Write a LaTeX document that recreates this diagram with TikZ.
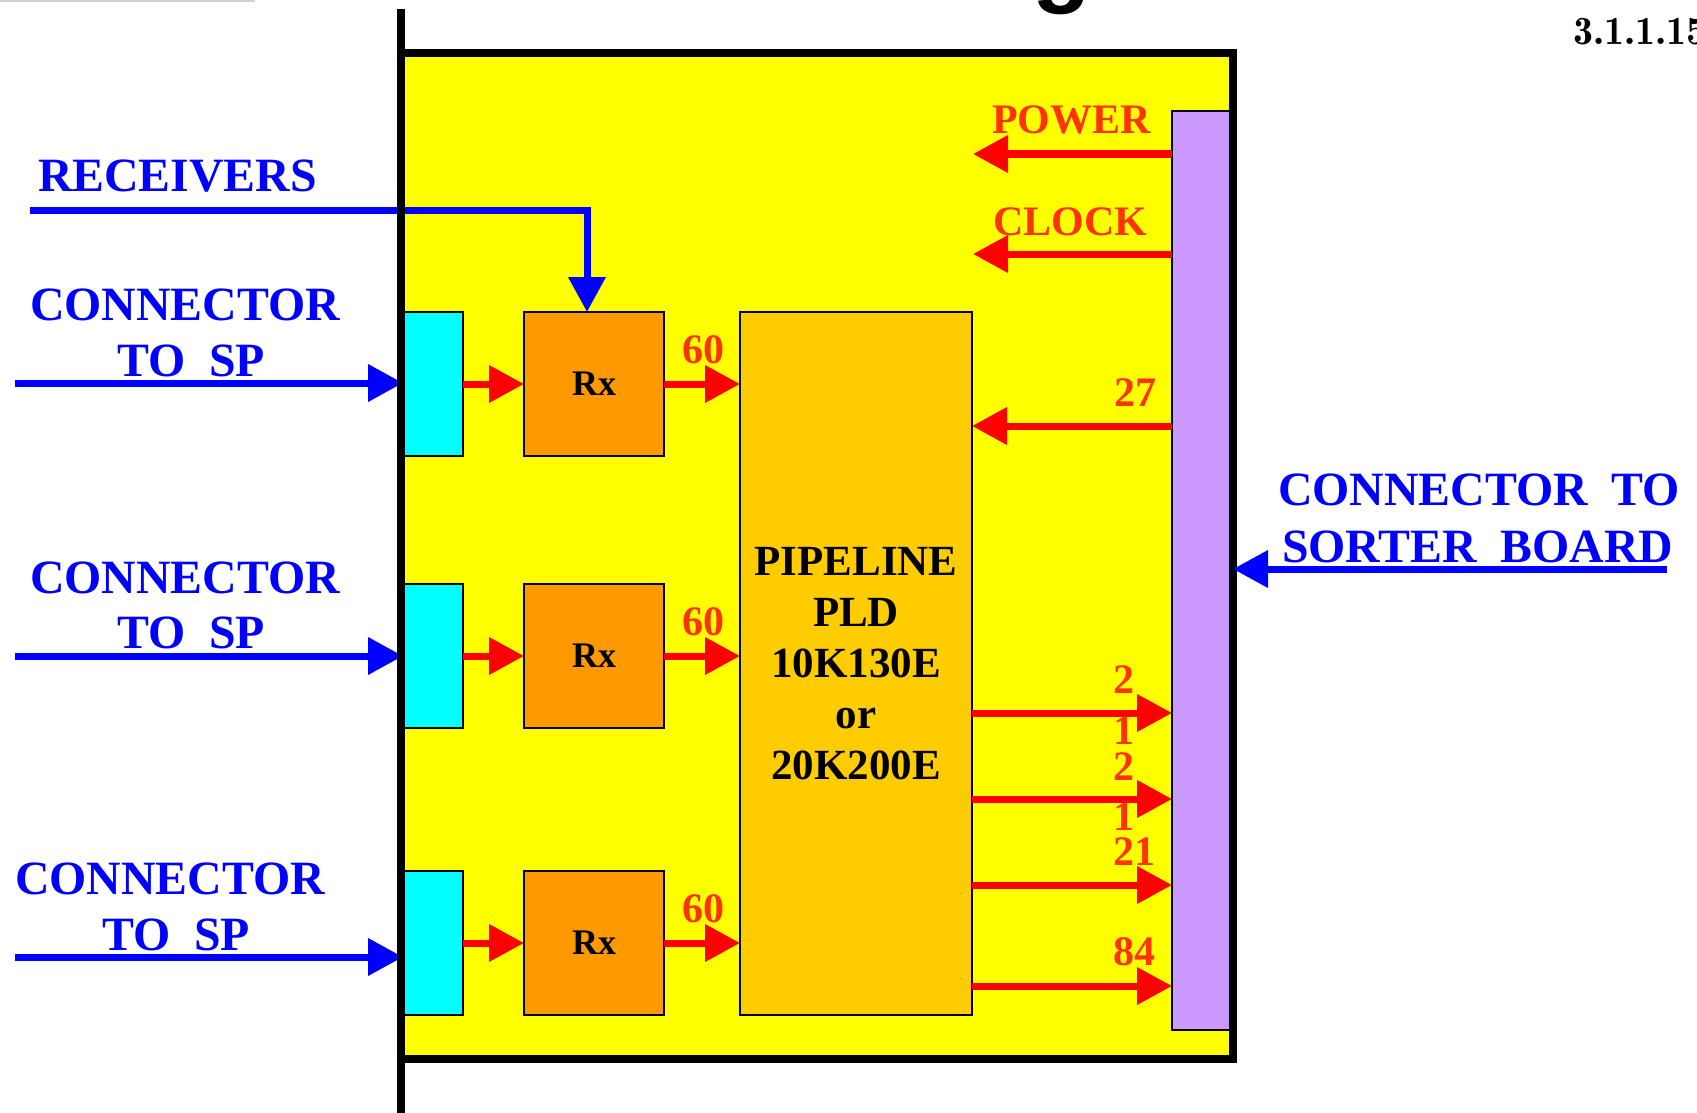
\documentclass[tikz,border=0pt]{standalone}
\usepackage{fontspec}
\setmainfont{Liberation Serif}
\newfontfamily\headfont{Liberation Sans}
\usetikzlibrary{arrows.meta}
\definecolor{boardyel}{HTML}{FFFF00}
\definecolor{conncyan}{HTML}{00FFFF}
\definecolor{rxorange}{HTML}{FF9900}
\definecolor{pldgold}{HTML}{FFCC00}
\definecolor{buslilac}{HTML}{CC99FF}
\definecolor{sigred}{HTML}{FF3300}
\newcommand{\bl}{\fontsize{47.8}{55}\selectfont\bfseries}
\newcommand{\rl}{\fontsize{42}{51}\selectfont\bfseries}
\newcommand{\pf}{\fontsize{43}{51}\selectfont\bfseries}
\newcommand{\rxf}{\fontsize{36}{40}\selectfont\bfseries}

\begin{document}
\begin{tikzpicture}[x=1pt, y=-1pt, every node/.style={inner sep=0pt, outer sep=0pt},
  blk/.style={draw=black, line width=1.8pt},
  rarr/.style={draw=red, line width=7pt, -{Triangle[length=35pt,width=36pt]}},
  barr/.style={draw=blue, line width=7pt, -{Triangle[length=35pt,width=36pt]}},
  bluetxt/.style={font=\bl, text=blue},
  redtxt/.style={font=\rl, text=sigred, anchor=base west}]
\useasboundingbox (0,0) rectangle (1697,1113);
% ---- page remnants
\draw[black!18, line width=2pt] (0,1) -- (255,1);
\node[font={\headfont\fontsize{96}{100}\selectfont\bfseries}, anchor=base] (ttl) at (1062,-5) {g};
\node[font={\fontfamily{lmr}\fontsize{40}{44}\selectfont\bfseries}, anchor=base west] (pgno) at (1573,45) {3.1.1.15};
% ---- board
\node[draw=black, line width=8pt, fill=boardyel, minimum width=832pt, minimum height=1006pt] (board) at (817,556) {};
\node[blk, fill=buslilac, minimum width=58pt, minimum height=919pt] (bus) at (1201,570.5) {};
\node[blk, fill=pldgold, minimum width=232pt, minimum height=703pt, font=\pf, align=center] (pld) at (856,663.5)
  {PIPELINE\\PLD\\10K130E\\or\\20K200E};
% ---- input channels
\foreach \i/\y in {1/384, 2/656, 3/943} {
  \node[blk, fill=conncyan, minimum width=60pt, minimum height=144pt] (cn\i) at (433,\y) {};
  \node[blk, fill=rxorange, minimum width=140pt, minimum height=144pt, font=\rxf] (rx\i) at (594,\y) {Rx};
  \draw[rarr] (cn\i.east) -- (rx\i.west);
  \draw[rarr] (rx\i.east) -- (rx\i.east -| pld.west);
  \node[redtxt] (w\i) at (682,\y-21) {60};
}
% ---- connectors to SP
\coordinate (sp1) at (15,383);
\coordinate (sp2) at (15,656);
\coordinate (sp3) at (15,957);
\draw[barr] (sp1) -- (sp1 -| cn1.west);
\draw[barr] (sp2) -- (sp2 -| cn2.west);
\draw[barr] (sp3) -- (sp3 -| cn3.west);
\node[bluetxt, anchor=base west] (sp1a) at (30,320) {CONNECTOR};
\node[bluetxt, anchor=base] (sp1b) at (191,376) {TO~~SP};
\node[bluetxt, anchor=base west] (sp2a) at (30,593) {CONNECTOR};
\node[bluetxt, anchor=base] (sp2b) at (191,648) {TO~~SP};
\node[bluetxt, anchor=base west] (sp3a) at (15,894) {CONNECTOR};
\node[bluetxt, anchor=base] (sp3b) at (176,950) {TO~~SP};
% ---- receivers control
\coordinate (rcv) at (30,210);
\draw[barr] (rcv) -| ([xshift=-7pt]rx1.north);
\node[bluetxt, anchor=base west] (rcvl) at (38,191) {RECEIVERS};
% ---- sorter board connector
\coordinate (srt) at (1667,569);
\draw[barr] (srt) -- (srt -| board.east);
\node[bluetxt, anchor=base west] (srta) at (1278,505) {CONNECTOR~~TO};
\node[bluetxt, anchor=base west] (srtb) at (1282,562) {SORTER~~BOARD};
% ---- bus to PLD
\coordinate (pw) at (973,154);
\coordinate (ck) at (973,254);
\coordinate (in27) at (972,426);
\draw[rarr] (pw -| bus.west) -- (pw);
\draw[rarr] (ck -| bus.west) -- (ck);
\draw[rarr] (in27 -| bus.west) -- (in27 -| pld.east);
\node[redtxt] (pwl) at (992,134) {POWER};
\node[redtxt] (ckl) at (993,235) {CLOCK};
\node[redtxt] (l27) at (1114,406) {27};
% ---- PLD to bus
\foreach \y in {713, 799, 885, 986}
  \draw[rarr] (pld.east |- 0,\y) -- (bus.west |- 0,\y);
\node[redtxt] (o1a) at (1113,693) {2};
\node[redtxt] (o1b) at (1113,744) {1};
\node[redtxt] (o2a) at (1113,780) {2};
\node[redtxt] (o2b) at (1113,830) {1};
\node[redtxt] (o3) at (1113,865) {21};
\node[redtxt] (o4) at (1113,965) {84};
% ---- board edge
\draw[line width=8pt] (401,9) -- (401,1113);
\end{tikzpicture}
\end{document}
